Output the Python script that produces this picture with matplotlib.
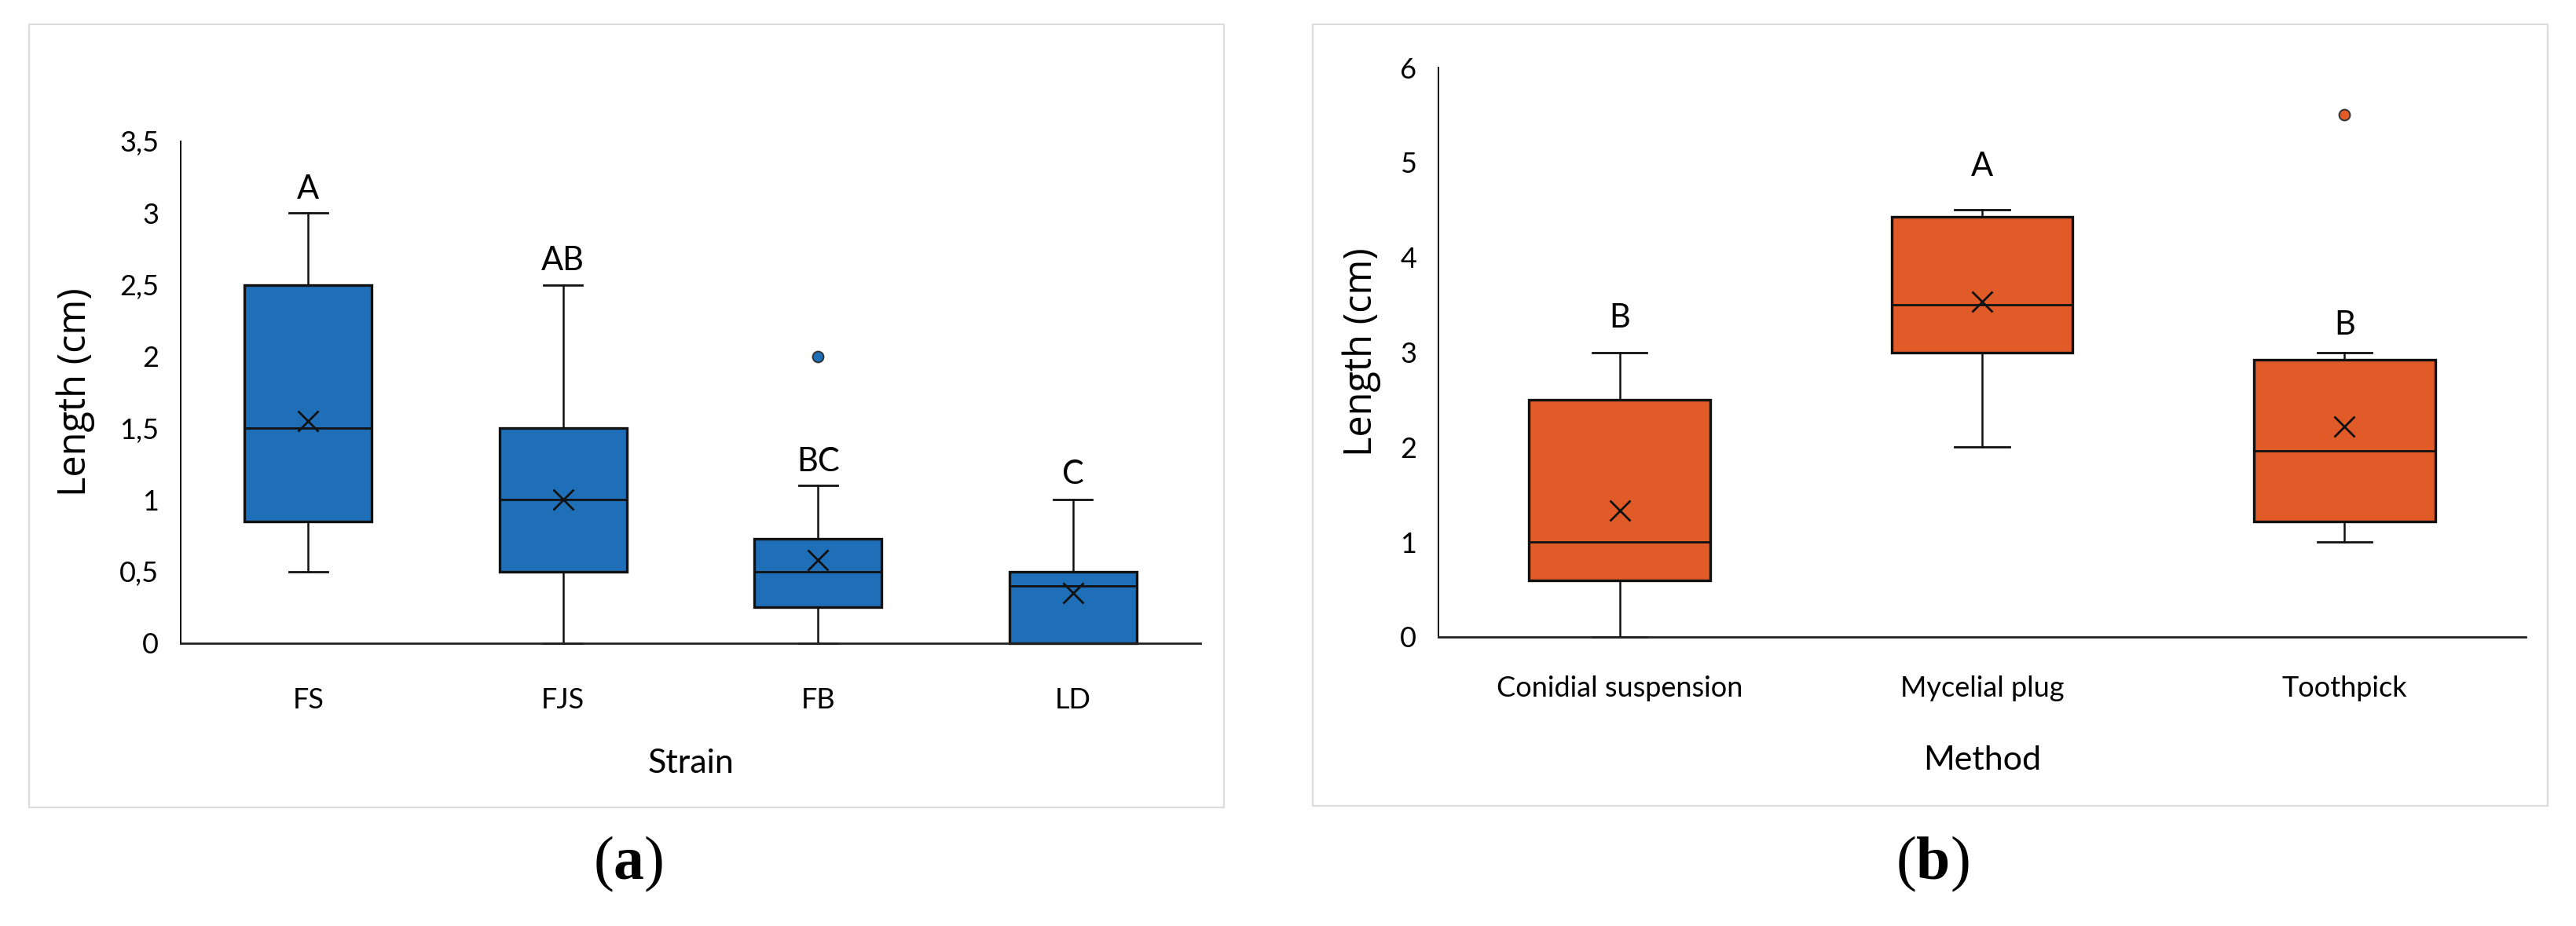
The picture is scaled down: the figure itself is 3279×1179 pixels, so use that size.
import matplotlib
matplotlib.use("Agg")
import matplotlib.pyplot as plt
from matplotlib.patches import Rectangle

# ---------------- data ----------------
strains = ["FS", "FJS", "FB", "LD"]
a_whislo = [0.5, 0.0, 0.0, 0.0]
a_q1 = [0.85, 0.5, 0.25, 0.0]
a_med = [1.5, 1.0, 0.5, 0.4]
a_q3 = [2.5, 1.5, 0.73, 0.5]
a_whishi = [3.0, 2.5, 1.1, 1.0]
a_mean = [1.55, 1.0, 0.58, 0.35]
a_fliers = [[], [], [2.0], []]
a_letters = ["A", "AB", "BC", "C"]
a_letter_y = [3.10, 2.60, 1.20, 1.11]
a_ticks = [0, 0.5, 1, 1.5, 2, 2.5, 3, 3.5]
a_ticklabels = ["0", "0,5", "1", "1,5", "2", "2,5", "3", "3,5"]

methods = ["Conidial suspension", "Mycelial plug", "Toothpick"]
b_whislo = [0.0, 2.0, 1.0]
b_q1 = [0.6, 3.0, 1.22]
b_med = [1.0, 3.5, 1.96]
b_q3 = [2.5, 4.43, 2.92]
b_whishi = [3.0, 4.5, 3.0]
b_mean = [1.33, 3.53, 2.22]
b_fliers = [[], [], [5.5]]
b_letters = ["B", "A", "B"]
b_letter_y = [3.26, 4.86, 3.19]
b_ticks = [0, 1, 2, 3, 4, 5, 6]
b_ticklabels = ["0", "1", "2", "3", "4", "5", "6"]

BLUE = "#1F6FB8"
ORANGE = "#E05B27"

plt.rcParams["mathtext.fontset"] = "custom"
plt.rcParams["mathtext.rm"] = "Liberation Serif"
plt.rcParams["mathtext.bf"] = "Liberation Serif:bold"

W, H = 3279, 1179
fig = plt.figure(figsize=(W / 100, H / 100), dpi=100)
fig.patch.set_facecolor("white")

FONT = ["Lato", "DejaVu Sans"]
YFONT = ["Open Sans", "DejaVu Sans"]


def fx(px):
    return px / W


def fy(py):
    return 1 - py / H


def panel(rect_px, ax_px, cats, lo, q1, med, q3, hi, mean, fliers, letters, letter_y,
          ticks, ticklabels, color, xlabel, ylab_x, xlabel_y, xpad, tag, tag_x):
    # border
    x0, y0, x1, y1 = rect_px
    fig.add_artist(Rectangle((fx(x0), fy(y1)), fx(x1 - x0), (y1 - y0) / H,
                             transform=fig.transFigure, fill=False,
                             edgecolor="#dcdcdc", linewidth=1.6))
    l, t, r, b = ax_px
    ax = fig.add_axes([fx(l), fy(b), fx(r - l), (b - t) / H])
    ax.set_facecolor("none")
    stats = []
    for i in range(len(cats)):
        stats.append(dict(whislo=lo[i], q1=q1[i], med=med[i], q3=q3[i],
                          whishi=hi[i], mean=mean[i], fliers=fliers[i]))
    pos = list(range(1, len(cats) + 1))
    art = ax.bxp(stats, positions=pos, widths=0.5, capwidths=0.15,
                 patch_artist=True, showmeans=True,
                 boxprops=dict(facecolor=color, edgecolor="#111111", linewidth=2.4),
                 medianprops=dict(color="#111111", linewidth=2.0),
                 whiskerprops=dict(color="#111111", linewidth=1.8),
                 capprops=dict(color="#111111", linewidth=2.0),
                 meanprops=dict(marker="x", markeredgecolor="#111111",
                                markerfacecolor="#111111", markersize=19,
                                markeredgewidth=2.0),
                 flierprops=dict(marker="o", markerfacecolor=color,
                                 markeredgecolor="#333333", markersize=10,
                                 markeredgewidth=1.4))
    for k in art:
        for a in art[k]:
            a.set_clip_on(False)
    ax.set_xlim(0.5, len(cats) + 0.5)
    ax.set_ylim(ticks[0], ticks[-1])
    ax.set_yticks(ticks)
    ax.set_yticklabels(ticklabels, fontsize=26, family=FONT)
    ax.set_xticks(pos)
    ax.set_xticklabels(cats, fontsize=26, family=FONT)
    ax.tick_params(axis="y", length=0, pad=20)
    ax.tick_params(axis="x", length=0, pad=xpad)
    for s in ["top", "right"]:
        ax.spines[s].set_visible(False)
    ax.spines["left"].set_linewidth(1.4)
    ax.spines["bottom"].set_linewidth(2.0)
    ax.spines["bottom"].set_color("#222222")
    for i, (lt, ly) in enumerate(zip(letters, letter_y)):
        ax.text(pos[i], ly, lt, ha="center", va="baseline", fontsize=30,
                family=FONT, clip_on=False)
    fig.text(fx(ylab_x), fy((t + b) / 2), "Length (cm)", rotation=90,
             ha="center", va="center", fontsize=35, family=YFONT)
    fig.text(fx((l + r) / 2), fy(xlabel_y), xlabel, ha="center", va="center",
             fontsize=31, family=FONT)
    fig.text(fx(tag_x), fy(1100), r"$\mathrm{(}\mathbf{%s}\mathrm{)}$" % tag,
             ha="center", va="center", fontsize=56)
    return ax


panel((37, 31, 1558, 1028), (230, 180, 1528, 819), strains,
      a_whislo, a_q1, a_med, a_q3, a_whishi, a_mean, a_fliers, a_letters, a_letter_y,
      a_ticks, a_ticklabels, BLUE, "Strain", 96, 972, 40, "a", 800)

panel((1671, 31, 3243, 1026), (1831, 86, 3215, 811), methods,
      b_whislo, b_q1, b_med, b_q3, b_whishi, b_mean, b_fliers, b_letters, b_letter_y,
      b_ticks, b_ticklabels, ORANGE, "Method", 1733, 968, 35, "b", 2460)

fig.savefig("out.png", dpi=100, facecolor="white")
